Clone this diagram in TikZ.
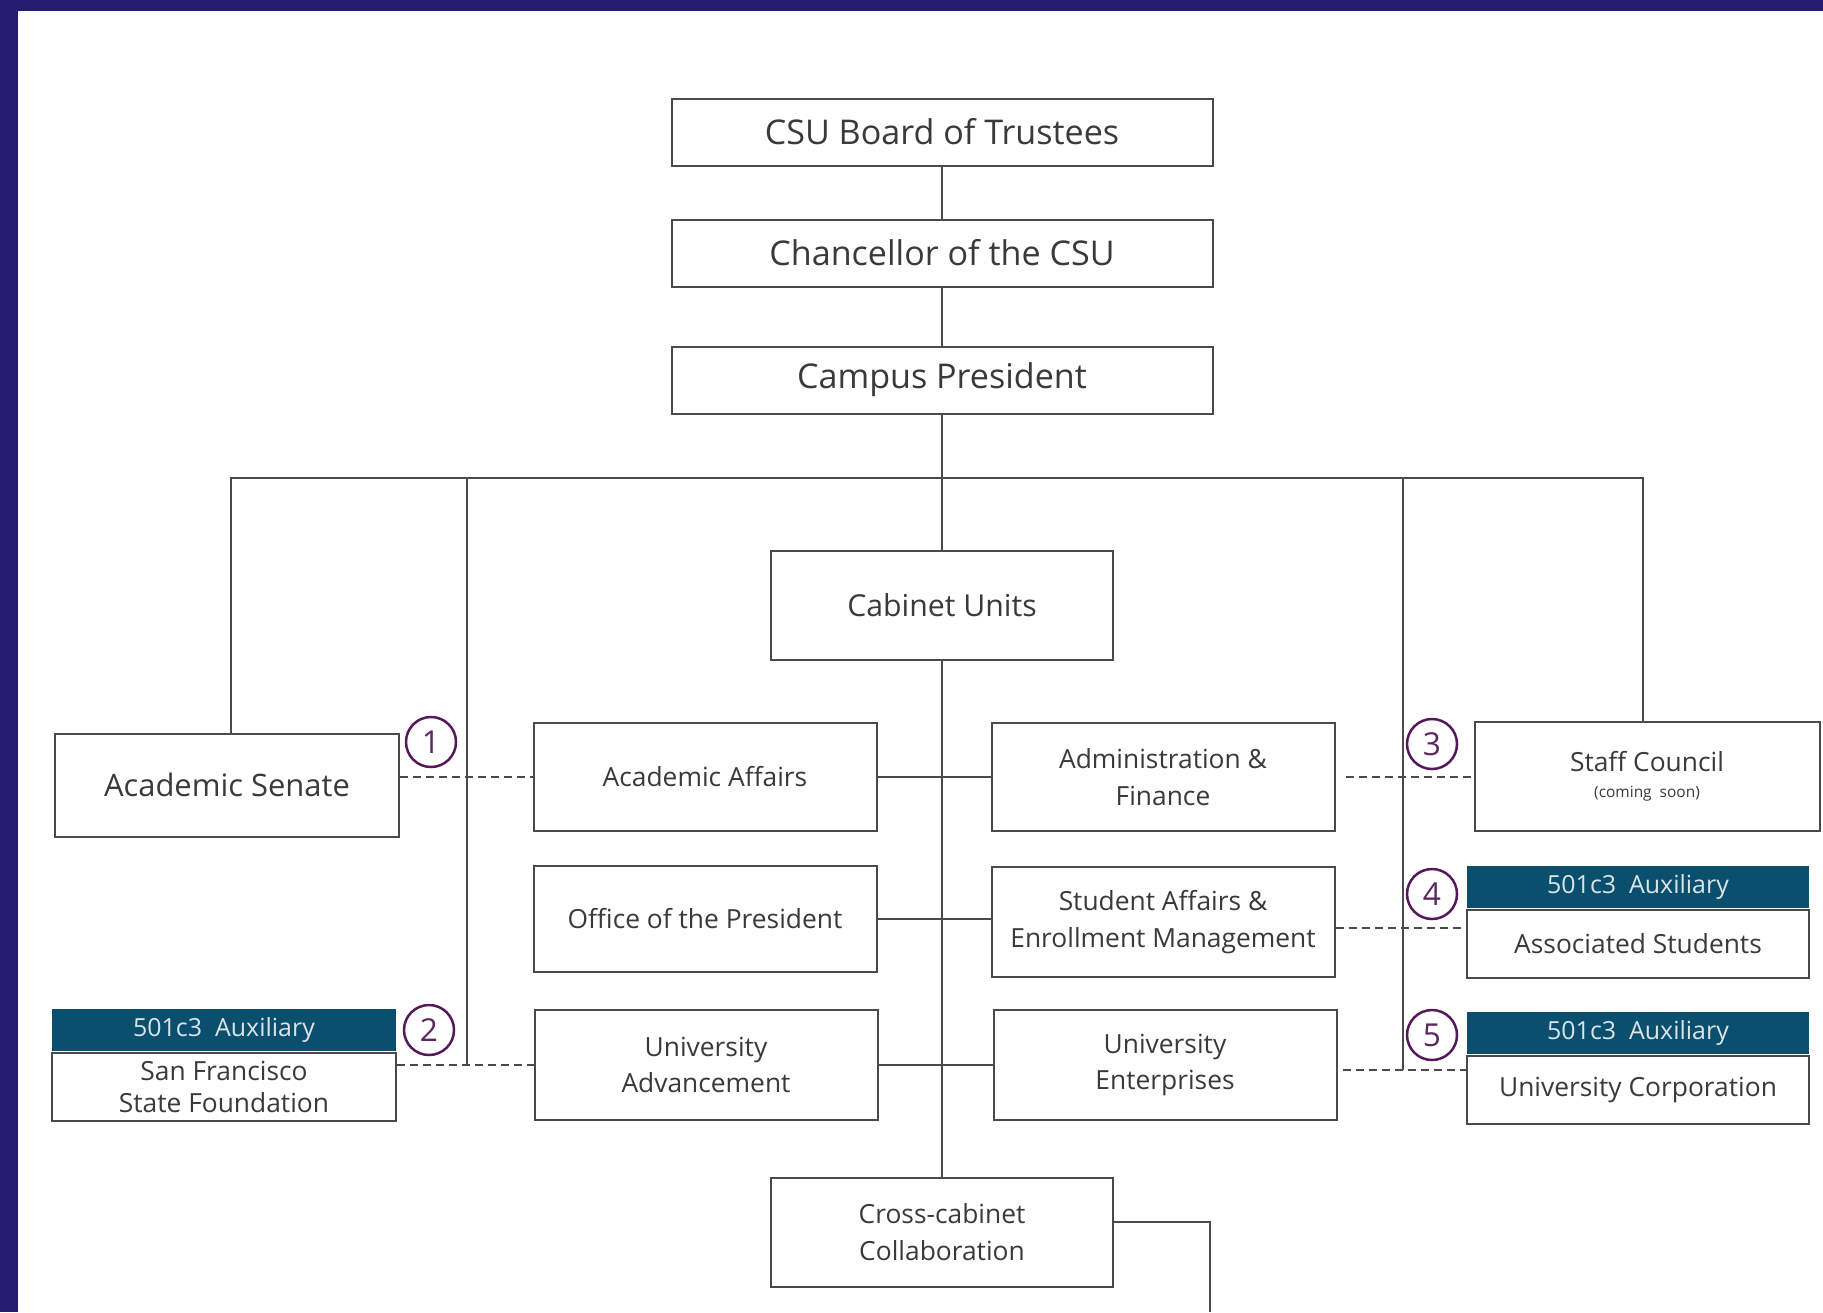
\documentclass[tikz,border=0pt]{standalone}
\usepackage{fontspec}
\setmainfont{Open Sans}
\usetikzlibrary{positioning, calc}
\definecolor{framepurple}{HTML}{261C72}
\definecolor{auxteal}{HTML}{0A4F6E}
\definecolor{badgeplum}{HTML}{55185A}
\definecolor{inkgray}{HTML}{3A3A3A}
\definecolor{rulegray}{HTML}{4A4A4A}
\newcommand{\topfont}{\fontsize{9.7}{12}\selectfont}
\newcommand{\senfont}{\fontsize{8.8}{11}\selectfont}
\newcommand{\cabfont}{\fontsize{8.6}{11}\selectfont}
\newcommand{\unitfont}{\fontsize{7.5}{10.4}\selectfont}
\newcommand{\headfont}{\fontsize{7.1}{9}\selectfont}
\newcommand{\soonfont}{\fontsize{4.4}{5}\selectfont}
\tikzset{
  unit/.style={draw=rulegray, line width=0.2mm, fill=white, inner sep=0pt, align=center, text=inkgray,
    minimum width=34.3mm, minimum height=10.8mm, font=\unitfont},
  topunit/.style={unit, minimum width=54.1mm, minimum height=6.7mm, font=\topfont},
  auxhead/.style={fill=auxteal, inner sep=0pt, align=center, text=white!85!auxteal,
    minimum width=34.2mm, minimum height=4.2mm, font=\headfont, anchor=south},
  auxbody/.style={unit, minimum width=34.2mm, minimum height=6.8mm, anchor=north},
  badge/.style={circle, draw=badgeplum, line width=0.25mm, minimum size=5mm, inner sep=0pt,
    fill=white, text=badgeplum!85!gray, font=\fontsize{9}{10}\selectfont},
  link/.style={draw=rulegray, line width=0.2mm},
  dashlink/.style={link, dash pattern=on 0.8mm off 0.5mm}
}

\begin{document}
\begin{tikzpicture}[x=0.1mm, y=-0.1mm]
  % frame
  \fill[framepurple] (0,0) rectangle (1823,1312);
  \fill[white] (18,11) rectangle (1823,1312);
  \useasboundingbox (0,0) rectangle (1823,1312);

  % chain of command
  \node[topunit] (bot)  at (942,132) {CSU Board of Trustees};
  \node[topunit] (chan) at (942,253) {Chancellor of the CSU};
  \node[topunit] (pres) at (942,380) {Campus President};

  \node[unit, font=\cabfont, minimum width=34.2mm, minimum height=10.9mm] (cab) at (942,605) {Cabinet Units};
  \node[unit, minimum width=34.2mm, minimum height=10.9mm] (xcab) at (942,1232) {Cross-cabinet\\Collaboration};

  % cabinet units
  \node[unit] (acaff)  at (705,777)  {Academic Affairs};
  \node[unit] (admfin) at (1163,777) {Administration \&\\Finance};
  \node[unit, minimum height=10.6mm] (opres) at (705,919) {Office of the President};
  \node[unit, minimum height=11mm] (saem) at (1163,922) {Student Affairs \&\\Enrollment Management};
  \node[unit, minimum height=11mm] (uadv) at (706,1065) {University\\Advancement};
  \node[unit, minimum height=11mm] (uent) at (1165,1065) {University\\Enterprises};

  % shared governance
  \node[unit, font=\senfont, minimum width=34.4mm, minimum height=10.3mm] (senate) at (227,785) {Academic Senate};
  \node[unit, minimum width=34.5mm, minimum height=10.9mm] (staff) at (1647,776)
    {Staff Council\\[-3pt]{\soonfont (coming~~soon)}};

  % auxiliaries
  \node[auxbody] (as) at (1638,909) {Associated Students};
  \node[auxhead] (ashead) at (as.north) {501c3~~Auxiliary};
  \node[auxbody, minimum width=34.4mm, font=\fontsize{7.5}{9.2}\selectfont] (sff) at (224,1052) {San Francisco\\State Foundation};
  \node[auxhead, minimum width=34.4mm] (sffhead) at (sff.north) {501c3~~Auxiliary};
  \node[auxbody] (uc) at (1638,1055) {University Corporation};
  \node[auxhead] (uchead) at (uc.north) {501c3~~Auxiliary};

  % reporting lines
  \coordinate (bus) at (942,478);
  \coordinate (tapL) at (467,1065);
  \coordinate (tapR) at (1403,1070);
  \coordinate (xend) at (1210,1312);
  \begin{scope}[every path/.style={link}]
    \draw (bot) -- (chan);
    \draw (chan) -- (pres);
    \draw (pres) -- (cab);
    \draw ([xshift=0.35mm]senate.north) |- (bus) -| ([xshift=-0.4mm]staff.north);
    \draw (tapL |- bus) -- (tapL);
    \draw (tapR |- bus) -- (tapR);
    \draw (cab) -- (xcab);
    \draw (acaff) -- (admfin);
    \draw (opres.east) -- (opres.east -| saem.west);
    \draw (uadv) -- (uent);
    \draw ([yshift=1mm]xcab.east) -| (xend);
  \end{scope}

  % auxiliary / governance links
  \draw[dashlink] (senate.east |- acaff.west) -- (acaff.west);
  \draw[dashlink] (sff.east |- uadv.west) -- (uadv.west);
  \draw[dashlink] ([xshift=1mm]admfin.east) -- (admfin.east -| staff.west);
  \draw[dashlink] ([yshift=-0.6mm]saem.east) -- ([yshift=-0.6mm]saem.east -| as.west);
  \draw[dashlink] ([xshift=0.5mm, yshift=-0.5mm]uent.east) -- ([yshift=-0.5mm]uent.east -| uc.west);

  % numbered badges
  \node[badge] (n1) at (431,742)  {1};
  \node[badge] (n2) at (429,1030) {2};
  \node[badge] (n3) at (1432,744) {3};
  \node[badge] (n4) at (1432,894) {4};
  \node[badge] (n5) at (1432,1035) {5};
\end{tikzpicture}
\end{document}
